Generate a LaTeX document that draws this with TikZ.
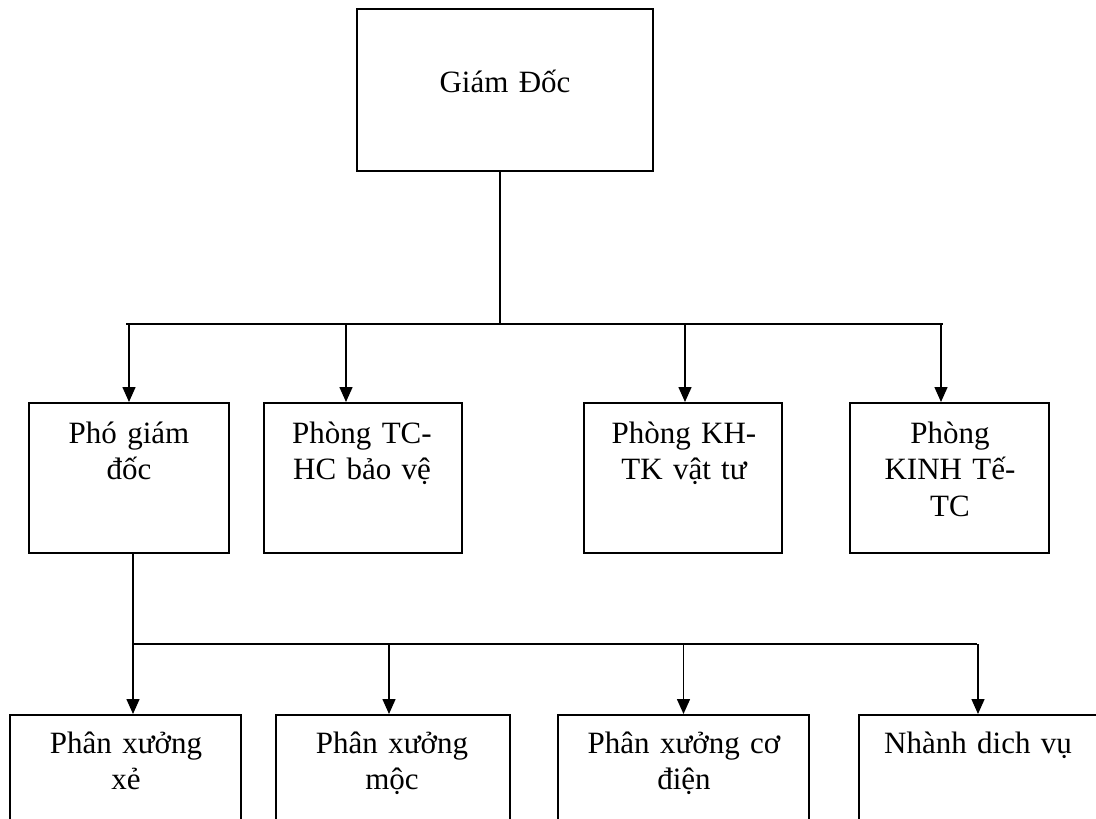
\documentclass[tikz,border=0pt]{standalone}
\usepackage{fontspec}
\setmainfont{Liberation Serif}
\usetikzlibrary{arrows.meta}
\begin{document}
\begin{tikzpicture}[x=1pt,y=-1pt,
  box/.style={draw, line width=2pt, inner sep=0pt, minimum height=#1},
  box/.default=150pt,
  lbl/.style={anchor=base, inner sep=0pt, align=center, text width=#1,
    font=\fontsize{31}{36.5}\selectfont},
  lbl/.default=230pt,
  conn/.style={line width=1.5pt},
  bar/.style={line width=2.6pt},
  arr/.style={line width=1.5pt, -{Triangle[length=15pt,width=13pt]}}]
\path[use as bounding box, clip] (0,0) rectangle (1096,819);

% top level
\node[box=162pt, minimum width=296pt] (gd) at (505,90) {};
\node[lbl] (tgd) at (505,92) {Giám Đốc};

% second row
\node[box, minimum width=200pt] (pgd) at (129,478) {};
\node[box, minimum width=198pt] (tc)  at (363,478) {};
\node[box, minimum width=198pt] (kh)  at (683,478) {};
\node[box, minimum width=199pt] (kt)  at (949.5,478) {};
\node[lbl=190pt] (tpgd) at (129,443) {Phó giám\\đốc};
\node[lbl=190pt] (ttc)  at (362,443) {Phòng TC-\\HC bảo vệ};
\node[lbl=190pt] (tkh)  at (684,443) {Phòng KH-\\TK vật tư};
\node[lbl=190pt] (tkt)  at (950,443) {Phòng\\KINH Tế-\\TC};

% third row (runs past the lower edge)
\node[box=120pt, minimum width=231pt] (xe)  at (125.5,775) {};
\node[box=120pt, minimum width=234pt] (moc) at (393,775) {};
\node[box=120pt, minimum width=251pt] (cd)  at (683.5,775) {};
\node[box=120pt, minimum width=261pt] (nh)  at (989.5,775) {};
\node[lbl=225pt] (txe)  at (126,753) {Phân xưởng\\xẻ};
\node[lbl=225pt] (tmoc) at (392,753) {Phân xưởng\\mộc};
\node[lbl=245pt] (tcd)  at (684,753) {Phân xưởng cơ\\điện};
\node[lbl=245pt] (tnh)  at (978,753) {Nhành dich vụ};

% director to second row
\coordinate (b1)  at (500,324);
\coordinate (b1w) at (126,324);
\coordinate (b1e) at (943,324);
\draw[conn] (gd.south -| b1) -- (b1);
\draw[bar] (b1w) -- (b1e);
\draw[arr] (pgd.north |- b1) -- (pgd.north);
\draw[arr] ([xshift=-17pt]tc.north |- b1) -- ([xshift=-17pt]tc.north);
\draw[arr] ([xshift=2pt]kh.north |- b1) -- ([xshift=2pt]kh.north);
\draw[arr] ([xshift=-8.5pt]kt.north |- b1) -- ([xshift=-8.5pt]kt.north);

% deputy director to workshops
\coordinate (b2)  at (133,644);
\coordinate (b2e) at (977,644);
\draw[conn] (pgd.south -| b2) -- (b2);
\draw[bar] (b2) -- (b2e);
\draw[arr] ([xshift=7.5pt]xe.north |- b2) -- ([xshift=7.5pt]xe.north);
\draw[arr] ([xshift=-4pt]moc.north |- b2) -- ([xshift=-4pt]moc.north);
\draw[arr] (cd.north |- b2) -- (cd.north);
\draw[arr] ([xshift=-11.5pt]nh.north |- b2) -- ([xshift=-11.5pt]nh.north);
\end{tikzpicture}
\end{document}
